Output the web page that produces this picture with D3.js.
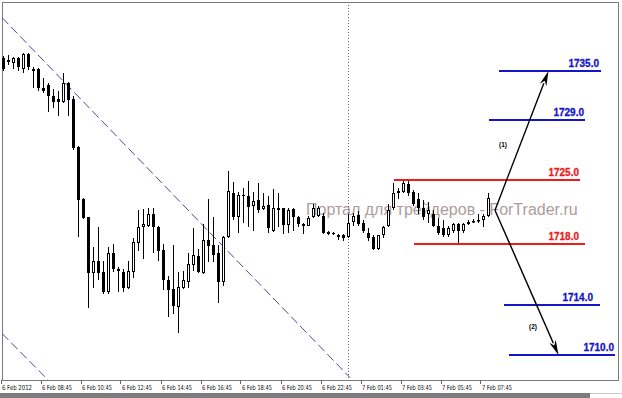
<!DOCTYPE html>
<html><head><meta charset="utf-8">
<script src="https://cdn.jsdelivr.net/npm/d3@7"></script>
<style>html,body{margin:0;padding:0;background:#fff;overflow:hidden}</style>
</head><body><svg id="c" width="622" height="398"></svg>
<script>
// ---- data (15-minute bars, price) ----
const opens = [1738.6,1738.2,1738.1,1738.6,1737.4,1739.1,1737.4,1737.4,1735.3,1735.6,1734.4,1734.1,1733.7,1735.8,1734.1,1728.7,1723.0,1720.9,1714.7,1716.1,1714.8,1712.6,1717.0,1715.2,1714.8,1713.1,1714.8,1718.1,1719.8,1720.0,1721.3,1719.8,1717.3,1713.9,1713.0,1711.0,1713.1,1713.7,1715.6,1716.6,1714.7,1718.4,1717.8,1716.9,1713.7,1718.7,1723.6,1720.9,1723.4,1723.3,1722.2,1722.8,1721.8,1722.3,1719.4,1721.9,1721.9,1720.1,1721.8,1721.0,1720.2,1720.0,1720.9,1721.1,1721.1,1719.3,1719.2,1719.0,1718.9,1718.7,1720.4,1721.2,1720.3,1719.2,1718.7,1717.4,1718.9,1719.9,1721.9,1723.6,1723.7,1724.6,1723.7,1722.9,1722.0,1721.3,1721.3,1720.0,1719.7,1718.9,1719.4,1720.2,1719.4,1720.2,1720.4,1720.5,1720.6,1721.1];
const highs = [1738.8,1738.9,1738.7,1738.7,1739.2,1739.2,1737.6,1737.5,1736.4,1735.8,1735.2,1735.0,1737.0,1735.9,1734.4,1728.8,1723.1,1721.0,1717.6,1719.8,1716.1,1717.6,1718.0,1715.4,1715.2,1716.1,1718.6,1721.7,1721.8,1721.9,1721.9,1720.0,1718.0,1714.4,1717.8,1714.8,1715.0,1717.0,1719.7,1717.4,1720.2,1723.0,1720.9,1717.8,1718.8,1726.1,1724.8,1723.7,1724.2,1725.0,1723.7,1724.7,1723.6,1723.3,1724.1,1723.6,1722.0,1721.9,1722.0,1721.1,1720.3,1721.1,1722.4,1722.2,1721.4,1719.4,1719.3,1719.1,1719.1,1721.3,1721.4,1721.6,1720.6,1719.7,1718.9,1719.0,1720.0,1722.4,1724.7,1724.2,1725.0,1725.0,1723.9,1723.6,1722.8,1722.6,1721.7,1720.8,1720.6,1720.0,1720.3,1720.3,1720.3,1720.6,1720.7,1721.3,1721.3,1723.6];
const lows = [1737.2,1737.8,1737.4,1737.2,1736.9,1737.3,1735.3,1735.0,1734.7,1732.6,1733.1,1732.2,1733.6,1732.2,1728.4,1718.7,1720.7,1710.8,1713.1,1713.9,1712.4,1712.4,1714.8,1712.6,1712.6,1713.0,1714.2,1717.2,1716.3,1719.8,1716.9,1716.1,1712.8,1709.8,1710.2,1708.1,1713.0,1713.1,1715.0,1714.7,1714.6,1715.9,1715.9,1711.4,1713.3,1718.6,1720.6,1719.2,1720.3,1719.8,1719.4,1721.4,1721.7,1719.2,1719.3,1719.8,1719.1,1719.2,1719.4,1719.8,1719.1,1719.9,1720.8,1721.0,1719.1,1719.0,1719.0,1718.4,1718.3,1718.6,1720.0,1720.0,1719.2,1718.3,1717.3,1717.3,1718.6,1719.8,1721.7,1723.0,1723.6,1723.3,1722.2,1721.3,1720.6,1720.3,1719.8,1718.9,1718.7,1718.7,1719.2,1718.0,1719.2,1720.1,1720.3,1720.3,1719.8,1721.0];
const closes = [1737.4,1738.4,1738.6,1737.6,1739.1,1737.6,1737.2,1735.3,1735.0,1734.4,1733.7,1733.7,1735.8,1733.9,1728.6,1722.8,1720.8,1714.7,1716.1,1714.7,1712.6,1717.0,1715.2,1714.9,1713.1,1715.0,1718.2,1719.8,1720.2,1721.3,1719.8,1717.2,1713.9,1712.8,1711.1,1713.2,1713.9,1715.7,1716.7,1714.8,1718.4,1717.7,1716.7,1713.7,1718.7,1723.8,1720.9,1723.4,1723.3,1722.1,1722.7,1721.7,1722.2,1719.7,1722.0,1721.7,1720.1,1721.7,1721.0,1720.2,1720.0,1720.8,1721.9,1722.0,1719.2,1719.1,1719.1,1718.7,1718.6,1720.3,1721.1,1720.2,1719.4,1718.6,1717.4,1718.9,1719.8,1721.7,1723.6,1723.8,1724.7,1723.6,1722.4,1722.0,1720.9,1721.7,1720.0,1719.2,1718.9,1719.7,1720.2,1719.4,1720.2,1720.4,1720.5,1720.6,1721.1,1723.1];

const tickIndex = [0,8,16,24,32,40,48,56,64,72,80,88,96];
const tickLabels = ["6 Feb 2012","6 Feb 08:45","6 Feb 10:45","6 Feb 12:45","6 Feb 14:45","6 Feb 16:45","6 Feb 18:45","6 Feb 20:45","6 Feb 22:45","7 Feb 01:45","7 Feb 03:45","7 Feb 05:45","7 Feb 07:45"];

// target levels drawn by the analyst
const levelValues = [1735, 1729, 1725, 1718, 1714, 1710];
const levelLabels = ["1735.0","1729.0","1725.0","1718.0","1714.0","1710.0"];
const levelKinds  = ["target","target","range","range","target","target"];
const levelFrom   = [99.1, 97.1, 78.1, 82.1, 100.1, 101.1];   // bar index
const levelTo     = [119.5, 116.3, 115.3, 116.3, 119.3, 122.3];
const levelLabelAt= [119.1, 116.1, 115.1, 115.1, 117.9, 122.1];

// scenario arrows: start (bar, level) -> end (bar, level)
const arrowNames = ["(1)", "(2)"];
const arrowFrom  = [[98.3, 1721.7], [98.3, 1721.7]];
const arrowTo    = [[109.0, 1735], [111.0, 1710]];
const arrowNameAt= [[99.9, 1727.3], [105.9, 1712.2]];

// channel trend lines (bar, price)
const trendLines = [[[-0.3, 1743.1], [69.3, 1703.1]], [[-0.3, 1708.0], [9.0, 1702.8]]];
const separatorIndex = 68.9;

// ---- drawing ----
const W = 622, H = 398;
const svg = d3.select("#c");
const plot = {l: 2, t: 2, r: 618, b: 380};

const x = d3.scaleLinear().domain([0, 100]).range([3.5, 503.5]);
const y = d3.scaleLinear().domain([1725, 1718]).range([180.5, 243.5]);
const yLevel = d3.scaleLinear().domain(levelValues).range([71, 120, 180, 244, 305, 355]);

svg.append("rect").attr("width", W).attr("height", H).attr("fill", "#fff");

const defs = svg.append("defs");
defs.append("clipPath").attr("id", "clip").append("rect")
  .attr("x", plot.l).attr("y", plot.t).attr("width", plot.r - plot.l).attr("height", plot.b - plot.t);

// frame
svg.append("rect").attr("x", plot.l + 0.5).attr("y", plot.t + 0.5)
  .attr("width", plot.r - plot.l).attr("height", plot.b - plot.t)
  .attr("fill", "none").attr("stroke", "#7a7a7a").attr("stroke-width", 1);

const g = svg.append("g").attr("clip-path", "url(#clip)");

// watermark
g.append("text").attr("x", 306).attr("y", 215)
  .attr("font-family", "Liberation Sans, Arial, sans-serif").attr("font-size", 16)
  .attr("fill", "#ab9d9d")
  .text("Портал для трейдеров - ForTrader.ru");

// separator
g.append("line").attr("x1", Math.round(x(separatorIndex)) + 0.5).attr("x2", Math.round(x(separatorIndex)) + 0.5)
  .attr("y1", plot.t).attr("y2", plot.b)
  .attr("stroke", "#666").attr("stroke-width", 1).attr("stroke-dasharray", "1,2");

// trend lines
const tl = d3.line().x(d => x(d[0])).y(d => y(d[1]));
g.selectAll("path.trend").data(trendLines).join("path").attr("class", "trend")
  .attr("d", tl).attr("fill", "none").attr("stroke", "#4848a0").attr("stroke-width", 1)
  .attr("stroke-dasharray", "9,4");

// candles
const idx = d3.range(opens.length);
g.selectAll("line.wick").data(idx).join("line").attr("class", "wick")
  .attr("x1", i => x(i)).attr("x2", i => x(i))
  .attr("y1", i => Math.round(y(highs[i]))).attr("y2", i => Math.round(y(lows[i])))
  .attr("stroke", "#000").attr("stroke-width", 1);

idx.forEach(i => {
  const up = closes[i] > opens[i];
  let top = Math.round(y(Math.max(opens[i], closes[i])));
  let bot = Math.round(y(Math.min(opens[i], closes[i])));
  if (bot - top < 1) bot = top + 1;
  if (up) {
    g.append("rect").attr("x", x(i) - 1).attr("y", top + 0.5)
      .attr("width", 2).attr("height", Math.max(bot - top - 1, 0.5))
      .attr("fill", "#fff").attr("stroke", "#000").attr("stroke-width", 1);
  } else {
    g.append("rect").attr("x", x(i) - 1.5).attr("y", top)
      .attr("width", 3).attr("height", bot - top).attr("fill", "#000");
  }
});

// levels
const levelColor = k => k === "range" ? "#ee1c1c" : "#1515c8";
const lv = d3.range(levelValues.length);
g.selectAll("line.level").data(lv).join("line").attr("class", "level")
  .attr("x1", i => x(levelFrom[i])).attr("x2", i => x(levelTo[i]))
  .attr("y1", i => yLevel(levelValues[i])).attr("y2", i => yLevel(levelValues[i]))
  .attr("stroke", i => levelColor(levelKinds[i])).attr("stroke-width", 2);
g.selectAll("text.level").data(lv).join("text").attr("class", "level")
  .attr("x", i => x(levelLabelAt[i])).attr("y", i => yLevel(levelValues[i]) - 4)
  .attr("text-anchor", "end")
  .attr("font-family", "Liberation Sans, Arial, sans-serif").attr("font-weight", "bold")
  .attr("font-size", 10).attr("fill", i => levelColor(levelKinds[i]))
  .attr("stroke", i => levelColor(levelKinds[i])).attr("stroke-width", 0.3)
  .text(i => levelLabels[i]);

// arrows
d3.range(arrowNames.length).forEach(k => {
  const x1 = x(arrowFrom[k][0]), y1 = yLevel(arrowFrom[k][1]);
  const x2 = x(arrowTo[k][0]), y2 = yLevel(arrowTo[k][1]);
  const dx = x2 - x1, dy = y2 - y1, len = Math.hypot(dx, dy);
  const ux = dx / len, uy = dy / len;
  const hl = 15, hw = 3.5;
  const bx = x2 - ux * hl, by = y2 - uy * hl;
  g.append("line").attr("x1", x1).attr("y1", y1).attr("x2", bx + ux * 2).attr("y2", by + uy * 2)
    .attr("stroke", "#000").attr("stroke-width", 1.4);
  g.append("path")
    .attr("d", `M${x2},${y2}L${bx - uy * hw},${by + ux * hw}L${x2 - ux * hl * 0.7},${y2 - uy * hl * 0.7}L${bx + uy * hw},${by - ux * hw}Z`)
    .attr("fill", "#000");
  g.append("text").attr("x", x(arrowNameAt[k][0])).attr("y", yLevel(arrowNameAt[k][1]))
    .attr("text-anchor", "middle").attr("dominant-baseline", "middle")
    .attr("font-family", "Liberation Sans, Arial, sans-serif").attr("font-weight", "bold")
    .attr("font-size", 6.5).attr("fill", "#000").text(arrowNames[k]);
});

// time axis
const ax = svg.append("g");
ax.selectAll("line.tick").data(tickIndex).join("line").attr("class", "tick")
  .attr("x1", i => Math.round(x(i)) - 2.5).attr("x2", i => Math.round(x(i)) - 2.5)
  .attr("y1", plot.b).attr("y2", plot.b + 4).attr("stroke", "#666");
ax.selectAll("text").data(tickIndex).join("text")
  .attr("x", i => x(i) - 1.5).attr("y", 389.5)
  .attr("font-family", "DejaVu Sans, sans-serif").attr("font-size", 6.8)
  .attr("fill", "#111").attr("textLength", 30).attr("lengthAdjust", "spacingAndGlyphs")
  .text((d, k) => tickLabels[k]);

// bottom bar
svg.append("rect").attr("x", 0).attr("y", 393).attr("width", 590).attr("height", 5).attr("fill", "#7c7c7c");
svg.append("rect").attr("x", 590).attr("y", 393).attr("width", 32).attr("height", 1).attr("fill", "#c8c8c8");
</script></body></html>
